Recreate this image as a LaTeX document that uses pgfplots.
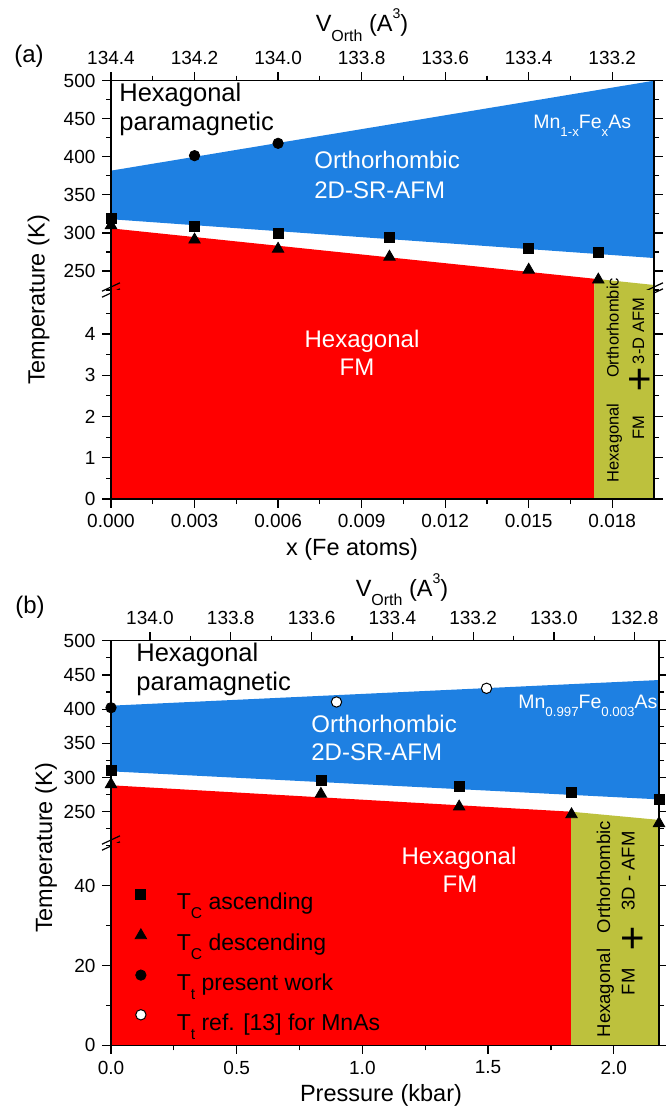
\documentclass[border=0pt]{standalone}
\usepackage{fontspec}
\setmainfont{Liberation Sans}
\usepackage{pgfplots}
\pgfplotsset{compat=1.18}
\definecolor{myblue}{RGB}{30,128,226}
\definecolor{myred}{RGB}{255,0,0}
\definecolor{myyel}{RGB}{189,193,61}
\newcommand\tickf{\fontsize{9.5}{11}\selectfont}
\newcommand\labf{\fontsize{11.75}{14}\selectfont}
\newcommand\regf{\fontsize{12.75}{15}\selectfont}
\newcommand\orf{\fontsize{12}{14}\selectfont}
\newcommand\mnf{\fontsize{9.75}{11}\selectfont}
\newcommand\smA{\fontsize{8.25}{10}\selectfont}
\newcommand\smB{\fontsize{9.25}{11}\selectfont}
\newcommand\legf{\fontsize{11.5}{14}\selectfont}
\newcommand\mysub[1]{\raisebox{-0.4em}{\scalebox{0.68}{#1}}}
\newcommand\mysup[1]{\raisebox{0.55em}{\scalebox{0.6}{#1}}}
\pgfplotsset{
  brk/.style={scale only axis, clip=false, axis line style={draw=none},
    tick align=outside, major tick length=4.25pt, minor tick length=2.5pt,
    tick style={black, line width=0.6pt},
    tick label style={font=\tickf},
    scaled x ticks=false, scaled y ticks=false,
    /pgf/number format/assume math mode=true},
  sq/.style={only marks, mark=square*, mark size=2.5pt, black},
  tri/.style={only marks, mark=triangle*, mark size=3.3pt, black},
  circ/.style={only marks, mark=*, mark size=2.6pt, black},
  ocirc/.style={only marks, mark=*, mark size=2.6pt, mark options={fill=white, draw=black, line width=0.5pt}},
}
\begin{document}
\begin{tikzpicture}
\useasboundingbox (0,0) rectangle (332.5pt,-553.5pt);
% ---------------- Panel (a) upper
\begin{axis}[brk, at={(55.5pt,-145pt)}, anchor=south west, width=271.5pt, height=104.65pt,
  xmin=0, xmax=0.0195, ymin=225, ymax=500,
  xtick={0,0.003,0.006,0.009,0.012,0.015,0.018},
  xticklabels={134.4,134.2,134.0,133.8,133.6,133.4,133.2},
  minor xtick={0.0015,0.0045,0.0075,0.0105,0.0135,0.0165},
  xtick pos=right, xticklabel pos=right,
  ytick={250,300,350,400,450,500}, minor ytick={225,275,325,375,425,475}]
\addplot[fill=myblue, draw=none] coordinates {(0,381.8) (0.0195,500) (0.0195,267) (0,318)};
\addplot[fill=myred, draw=none] coordinates {(0,225) (0,306) (0.01736,239.8) (0.01736,225)};
\addplot[fill=myyel, draw=none] coordinates {(0.01736,225) (0.01736,239.8) (0.0195,231.6) (0.0195,225)};
\draw[line width=0.75pt] (rel axis cs:0,0) -- (rel axis cs:0,1) -- (rel axis cs:1,1) -- (rel axis cs:1,0);
\draw[line width=0.6pt] ([shift={(-4.5pt,-0.6pt)}]rel axis cs:0,0) -- ([shift={(4.5pt,3.6pt)}]rel axis cs:0,0);
\draw[line width=0.6pt] ([shift={(-4.5pt,-3.6pt)}]rel axis cs:0,0) -- ([shift={(4.5pt,0.6pt)}]rel axis cs:0,0);
\draw[line width=0.6pt] ([shift={(-4.5pt,-0.6pt)}]rel axis cs:1,0) -- ([shift={(4.5pt,3.6pt)}]rel axis cs:1,0);
\draw[line width=0.6pt] ([shift={(-4.5pt,-3.6pt)}]rel axis cs:1,0) -- ([shift={(4.5pt,0.6pt)}]rel axis cs:1,0);
\addplot[sq] coordinates {(0,319) (0.003,308) (0.006,299.5) (0.010,294) (0.015,280) (0.0175,274)};
\addplot[tri] coordinates {(0,310) (0.003,291) (0.006,279) (0.010,268.5) (0.015,251.5) (0.0175,238.5)};
\addplot[circ] coordinates {(0.003,401.5) (0.006,417.7)};
\end{axis}
% ---------------- Panel (a) lower
\begin{axis}[brk, at={(55.5pt,-249.5pt)}, anchor=south west, width=271.5pt, height=104.5pt,
  xmin=0, xmax=0.0195, ymin=0, ymax=5.067,
  xtick={0,0.003,0.006,0.009,0.012,0.015,0.018},
  xticklabels={0.000,0.003,0.006,0.009,0.012,0.015,0.018},
  minor xtick={0.0015,0.0045,0.0075,0.0105,0.0135,0.0165},
  xtick pos=left, xticklabel pos=left,
  ytick={0,1,2,3,4}, minor ytick={0.5,1.5,2.5,3.5,4.5}]
\addplot[fill=myred, draw=none] coordinates {(0,0) (0,5.067) (0.01736,5.067) (0.01736,0)};
\addplot[fill=myyel, draw=none] coordinates {(0.01736,0) (0.01736,5.067) (0.0195,5.067) (0.0195,0)};
\draw[line width=0.75pt] (rel axis cs:0,1) -- (rel axis cs:0,0) -- (rel axis cs:1,0) -- (rel axis cs:1,1);
\end{axis}
% ---------------- Panel (b) upper
\begin{axis}[brk, at={(55.5pt,-421.5pt)}, anchor=south west, width=274pt, height=101.15pt,
  xmin=0, xmax=2.18, ymin=204.2, ymax=500,
  xtick={0.155,0.4764,0.7978,1.1192,1.4406,1.762,2.0834},
  xticklabels={134.0,133.8,133.6,133.4,133.2,133.0,132.8},
  minor xtick={0.3157,0.6371,0.9585,1.2799,1.6013,1.9227},
  xtick pos=right, xticklabel pos=right,
  ytick={250,300,350,400,450,500}, minor ytick={225,275,325,375,425,475}]
\addplot[fill=myblue, draw=none] coordinates {(0,405) (2.18,442.5) (2.18,268) (0,309)};
\addplot[fill=myred, draw=none] coordinates {(0,204.2) (0,288.6) (1.83,250) (1.83,204.2)};
\addplot[fill=myyel, draw=none] coordinates {(1.83,204.2) (1.83,250) (2.18,238) (2.18,204.2)};
\draw[line width=0.75pt] (rel axis cs:0,0) -- (rel axis cs:0,1) -- (rel axis cs:1,1) -- (rel axis cs:1,0);
\draw[line width=0.6pt] ([shift={(-4.5pt,-0.6pt)}]rel axis cs:0,0) -- ([shift={(4.5pt,3.6pt)}]rel axis cs:0,0);
\draw[line width=0.6pt] ([shift={(-4.5pt,-3.6pt)}]rel axis cs:0,0) -- ([shift={(4.5pt,0.6pt)}]rel axis cs:0,0);
\addplot[sq] coordinates {(0,310) (0.835,296.4) (1.385,286.5) (1.832,278.3) (2.18,267.5)};
\addplot[tri] coordinates {(0,290) (0.835,275.8) (1.385,257.3) (1.832,246) (2.18,233)};
\addplot[circ] coordinates {(0,402)};
\addplot[ocirc] coordinates {(0.897,410.4) (1.494,430.4)};
\end{axis}
% ---------------- Panel (b) lower
\begin{axis}[brk, at={(55.5pt,-522.65pt)}, anchor=south west, width=274pt, height=101.15pt,
  xmin=0, xmax=2.18, ymin=0, ymax=50.7,
  xtick={0,0.5,1,1.5,2}, xticklabels={0.0,0.5,1.0,1.5,2.0},
  minor xtick={0.25,0.75,1.25,1.75},
  xtick pos=left, xticklabel pos=left,
  ytick={0,20,40}, minor ytick={10,30,50},
  legend style={at={(axis cs:0.0775,39.1)}, anchor=north west, draw=none, fill=none,
    inner sep=0pt, outer sep=0pt, font=\legf, row sep=5.6pt, column sep=12.75pt,
    nodes={inner sep=0pt, text height=10pt, text depth=4pt}},
  legend cell align=left,
  legend image code/.code={\draw[#1] plot coordinates {(0pt,4.65pt)}; \path (-5pt,0pt) (5pt,0pt);}]
\addplot[fill=myred, draw=none, forget plot] coordinates {(0,0) (0,50.7) (1.83,50.7) (1.83,0)};
\addplot[fill=myyel, draw=none, forget plot] coordinates {(1.83,0) (1.83,50.7) (2.18,50.7) (2.18,0)};
\draw[line width=0.75pt] (rel axis cs:0,1) -- (rel axis cs:0,0) -- (rel axis cs:1,0) -- (rel axis cs:1,1);
\addlegendimage{sq}
\addlegendentry{T\mysub{C} ascending}
\addlegendimage{tri}
\addlegendentry{T\mysub{C} descending}
\addlegendimage{circ}
\addlegendentry{T\mysub{t} present work}
\addlegendimage{ocirc}
\addlegendentry{T\mysub{t} ref. [13] for MnAs}
\end{axis}
% ---------------- Texts
\begin{scope}[x=0.5pt,y=-0.5pt]
% panel a
\node[font=\fontsize{12}{14}\selectfont, anchor=base] at (29,63) {(a)};
\node[font=\labf, anchor=base] at (362,31.7) {V\mysub{Orth} (A\mysup{3})};
\node[font=\labf, anchor=base] at (352,555) {x (Fe atoms)};
\node[font=\labf, anchor=base, rotate=90] at (44.5,300) {Temperature (K)};
\node[font=\regf, anchor=base west, inner sep=0pt] at (119,101.7) {Hexagonal};
\node[font=\regf, anchor=base west, inner sep=0pt] at (119,131) {paramagnetic};
\node[font=\mnf, anchor=base west, inner sep=0pt, white] at (533,128.3) {Mn\mysub{1-x}Fe\mysub{x}As};
\node[font=\orf, anchor=base west, inner sep=0pt, white] at (314,168.3) {Orthorhombic};
\node[font=\orf, anchor=base west, inner sep=0pt, white] at (314,198.3) {2D-SR-AFM};
\node[font=\orf, anchor=base, inner sep=0pt, white] at (362,347.3) {Hexagonal};
\node[font=\orf, anchor=base, inner sep=0pt, white] at (357,375) {FM};
\node[font=\smA, anchor=base, inner sep=0pt, rotate=90] at (618.5,328) {Orthorhombic};
\node[font=\smA, anchor=base, inner sep=0pt, rotate=90] at (618.5,443) {Hexagonal};
\node[font=\smA, anchor=base, inner sep=0pt, rotate=90] at (644,331) {3-D AFM};
\node[font=\smA, anchor=base, inner sep=0pt, rotate=90] at (644,428) {FM};
\node[font=\fontsize{21}{21}\selectfont, inner sep=0pt] at (640,381) {+};
% panel b
\node[font=\fontsize{12}{14}\selectfont, anchor=base] at (30,613.5) {(b)};
\node[font=\labf, anchor=base] at (402,596) {V\mysub{Orth} (A\mysup{3})};
\node[font=\labf, anchor=base] at (381,1101.7) {Pressure (kbar)};
\node[font=\labf, anchor=base, rotate=90] at (52,848) {Temperature (K)};
\node[font=\regf, anchor=base west, inner sep=0pt] at (136,661.7) {Hexagonal};
\node[font=\regf, anchor=base west, inner sep=0pt] at (136,690.7) {paramagnetic};
\node[font=\mnf, anchor=base west, inner sep=0pt, white] at (518,708.3) {Mn\mysub{0.997}Fe\mysub{0.003}As};
\node[font=\orf, anchor=base west, inner sep=0pt, white] at (311,732.7) {Orthorhombic};
\node[font=\orf, anchor=base west, inner sep=0pt, white] at (311,760.7) {2D-SR-AFM};
\node[font=\orf, anchor=base, inner sep=0pt, white] at (459,864.3) {Hexagonal};
\node[font=\orf, anchor=base, inner sep=0pt, white] at (460,892.7) {FM};
\node[font=\smB, anchor=base, inner sep=0pt, rotate=90] at (610,993) {Hexagonal};
\node[font=\smB, anchor=base, inner sep=0pt, rotate=90] at (610,877) {Orthorhombic};
\node[font=\smB, anchor=base, inner sep=0pt, rotate=90] at (634.5,981.7) {FM};
\node[font=\smB, anchor=base, inner sep=0pt, rotate=90] at (634.5,871) {3D - AFM};
\node[font=\fontsize{21}{21}\selectfont, inner sep=0pt] at (633,940) {+};
\end{scope}
\end{tikzpicture}
\end{document}
